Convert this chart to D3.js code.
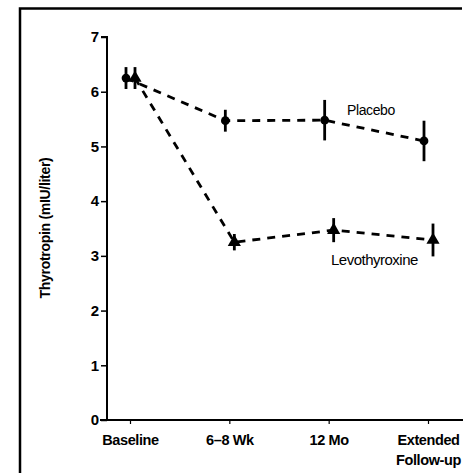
<!DOCTYPE html>
<html>
<head>
<meta charset="utf-8">
<script src="https://cdn.jsdelivr.net/npm/d3@7"></script>
<style>
  body { margin: 0; background: #fff; }
  text { font-family: "Liberation Sans", Arial, sans-serif; fill: #000; }
</style>
</head>
<body>
<div id="chart"></div>
<script>
var categories = ['Baseline', '6\u20138 Wk', '12 Mo', 'Extended Follow-up'];
var placebo = [6.25, 5.47, 5.48, 5.1];
var placeboErr = [0.2, 0.2, 0.37, 0.37];
var levo = [6.25, 3.25, 3.47, 3.29];
var levoErr = [0.2, 0.15, 0.22, 0.3];
var yTicks = [0, 1, 2, 3, 4, 5, 6, 7];

var width = 463, height = 473;

var svg = d3.select('#chart').append('svg')
  .attr('width', width)
  .attr('height', height);

// frame
svg.append('path')
  .attr('d', 'M20,480 L20,8.5 L462,8.5')
  .attr('fill', 'none')
  .attr('stroke', '#000')
  .attr('stroke-width', 2.5);

var x = d3.scalePoint().domain(categories).range([130, 428]);
var y = d3.scaleLinear().domain([0, 7]).range([420, 37]);

// y axis
var yAxis = svg.append('g')
  .attr('transform', 'translate(107,0)')
  .call(d3.axisLeft(y).tickValues(yTicks).tickSize(6).tickPadding(2).tickFormat(d3.format('d')));
yAxis.select('.domain').attr('stroke-width', 2).attr('d', 'M-6,' + y(7) + 'H0V' + y(0));
yAxis.selectAll('.tick line').attr('stroke-width', 1.5);
yAxis.selectAll('.tick text')
  .style('font-size', '15px').style('font-weight', 'bold').attr('fill', '#000');

// x axis
var xAxis = svg.append('g')
  .attr('transform', 'translate(0,' + y(0) + ')')
  .call(d3.axisBottom(x).tickSize(4).tickFormat(''));
xAxis.select('.domain').attr('stroke-width', 2).attr('d', 'M100,0H463');
xAxis.selectAll('.tick line').attr('stroke-width', 1.2);

xAxis.selectAll('.tick').each(function(d) {
  var lines = d === 'Extended Follow-up' ? ['Extended', 'Follow-up'] : [d];
  var t = d3.select(this).append('text')
    .attr('text-anchor', 'middle')
    .style('font-size', '14.5px')
    .style('font-weight', 'bold')
    .style('letter-spacing', '-0.4px');
  lines.forEach(function(l, i) {
    t.append('tspan').attr('x', 0).attr('y', 25 + i * 20).text(l);
  });
});

// y title
svg.append('text')
  .attr('transform', 'translate(50,228) rotate(-90)')
  .attr('text-anchor', 'middle')
  .style('font-size', '14px')
  .style('font-weight', 'bold')
  .style('letter-spacing', '-0.3px')
  .text('Thyrotropin (mIU/liter)');

function drawSeries(vals, errs, dx, symbolType, symSize) {
  var pts = vals.map(function(v, i) {
    return { x: x(categories[i]) + dx, v: v, e: errs[i] };
  });
  var line = d3.line().x(function(d) { return d.x; }).y(function(d) { return y(d.v); });
  svg.append('path')
    .datum(pts)
    .attr('d', line)
    .attr('fill', 'none')
    .attr('stroke', '#000')
    .attr('stroke-width', 2.8)
    .attr('stroke-dasharray', '8,7');
  var g = svg.append('g');
  g.selectAll('line.err')
    .data(pts).enter().append('line')
    .attr('x1', function(d) { return d.x; })
    .attr('x2', function(d) { return d.x; })
    .attr('y1', function(d) { return y(d.v + d.e); })
    .attr('y2', function(d) { return y(d.v - d.e); })
    .attr('stroke', '#000')
    .attr('stroke-width', 2.8);
  g.selectAll('path.sym')
    .data(pts).enter().append('path')
    .attr('d', d3.symbol().type(symbolType).size(symSize))
    .attr('transform', function(d) { return 'translate(' + d.x + ',' + y(d.v) + ')'; })
    .attr('fill', '#000');
}

drawSeries(placebo, placeboErr, -4, d3.symbolCircle, 60);
drawSeries(levo, levoErr, 5, d3.symbolTriangle, 75);

// series labels
svg.append('text')
  .attr('x', 347).attr('y', 115)
  .style('font-size', '14px')
  .style('letter-spacing', '-0.4px')
  .text('Placebo');
svg.append('text')
  .attr('x', 331).attr('y', 265)
  .style('font-size', '15px')
  .style('letter-spacing', '-0.5px')
  .text('Levothyroxine');
</script>
</body>
</html>
